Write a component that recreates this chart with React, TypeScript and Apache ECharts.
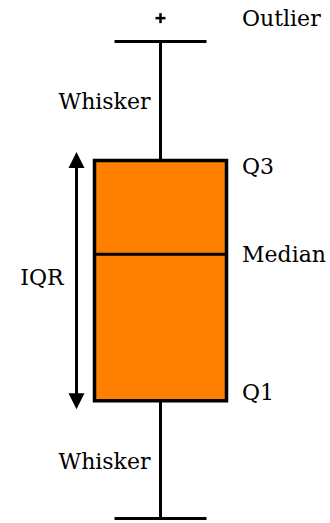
import React, { useEffect, useRef } from "react";
import * as echarts from "echarts";

// ---- data ----
const categories = ["Sample"];
const lowerWhisker = [0];
const q1Values = [24.7];
const medianValues = [55.4];
const q3Values = [75.05];
const upperWhisker = [100];
const outlierValues = [104.9];
const partLabels = {
  outlier: "Outlier",
  whisker: "Whisker",
  q3: "Q3",
  median: "Median",
  iqr: "IQR",
  q1: "Q1",
};

const FONT = '"DejaVu Serif", "Liberation Serif", serif';
const FS = 22;

export default function App() {
  const ref = useRef<HTMLDivElement>(null);
  useEffect(() => {
    if (!ref.current) return;
    const chart = echarts.init(ref.current, null, { renderer: "svg" });
    const data = categories.map((c, i) => [
      i,
      lowerWhisker[i],
      q1Values[i],
      medianValues[i],
      q3Values[i],
      upperWhisker[i],
      outlierValues[i],
    ]);
    const txt = (text: string, x: number, y: number, align: string, va: string) => ({
      type: "text",
      x,
      y,
      style: {
        text,
        fontSize: FS,
        fontFamily: FONT,
        fill: "#000",
        align,
        verticalAlign: va,
      },
    });
    const line = (x1: number, y1: number, x2: number, y2: number, w: number) => ({
      type: "line",
      shape: { x1, y1, x2, y2 },
      style: { stroke: "#000", lineWidth: w },
    });
    chart.setOption({
      animation: false,
      grid: { left: 0, width: 321, top: 41.5, bottom: 4.5 },
      xAxis: { type: "category", data: categories, show: false },
      yAxis: { type: "value", min: 0, max: 100, show: false },
      series: [
        {
          type: "custom",
          clip: false,
          data,
          renderItem: (params: any, api: any) => {
            const x = api.value(0);
            const pMin = api.coord([x, api.value(1)]);
            const pQ1 = api.coord([x, api.value(2)]);
            const pMed = api.coord([x, api.value(3)]);
            const pQ3 = api.coord([x, api.value(4)]);
            const pMax = api.coord([x, api.value(5)]);
            const pOut = api.coord([x, api.value(6)]);
            const cx = pMin[0];
            const hb = 66; // half box width
            const hc = 46; // half cap width
            const ax = cx - 84; // arrow x
            const labelX = cx + 81.5;
            const tipTop = pQ3[1] - 8.5;
            const tipBot = pQ1[1] + 8.5;
            const headLen = 16;
            const headHalf = 8;
            return {
              type: "group",
              children: [
                // whiskers
                line(cx, pMax[1], cx, pQ3[1], 3),
                line(cx, pQ1[1], cx, pMin[1], 3),
                line(cx - hc, pMax[1], cx + hc, pMax[1], 3.2),
                line(cx - hc, pMin[1], cx + hc, pMin[1], 3.2),
                // box
                {
                  type: "rect",
                  shape: { x: cx - hb, y: pQ3[1], width: 2 * hb, height: pQ1[1] - pQ3[1] },
                  style: { fill: "#FF8000", stroke: "#000", lineWidth: 3.5 },
                },
                line(cx - hb, pMed[1], cx + hb, pMed[1], 3),
                // outlier plus
                line(cx - 5, pOut[1], cx + 5, pOut[1], 2.5),
                line(cx, pOut[1] - 5, cx, pOut[1] + 5, 2.5),
                // IQR arrow
                line(ax, tipTop + headLen - 2, ax, tipBot - headLen + 2, 3),
                {
                  type: "polygon",
                  shape: { points: [[ax, tipTop], [ax - headHalf, tipTop + headLen], [ax + headHalf, tipTop + headLen]] },
                  style: { fill: "#000" },
                },
                {
                  type: "polygon",
                  shape: { points: [[ax, tipBot], [ax - headHalf, tipBot - headLen], [ax + headHalf, tipBot - headLen]] },
                  style: { fill: "#000" },
                },
                // labels
                txt(partLabels.outlier, labelX, pOut[1], "left", "middle"),
                txt(partLabels.whisker, cx - 10, (pMax[1] + pQ3[1]) / 2, "right", "middle"),
                txt(partLabels.whisker, cx - 10, (pQ1[1] + pMin[1]) / 2 + 2, "right", "middle"),
                txt(partLabels.q3, labelX, pQ3[1] + 6, "left", "middle"),
                txt(partLabels.median, labelX, pMed[1], "left", "middle"),
                txt(partLabels.q1, labelX, pQ1[1] - 8, "left", "middle"),
                txt(partLabels.iqr, ax - 13, (pQ1[1] + pQ3[1]) / 2 - 3, "right", "middle"),
              ],
            };
          },
        },
      ],
    });
    return () => chart.dispose();
  }, []);
  return (
    <div
      ref={ref}
      style={{ position: "absolute", left: 0, top: 0, width: 330, height: 523, background: "#fff" }}
    />
  );
}
